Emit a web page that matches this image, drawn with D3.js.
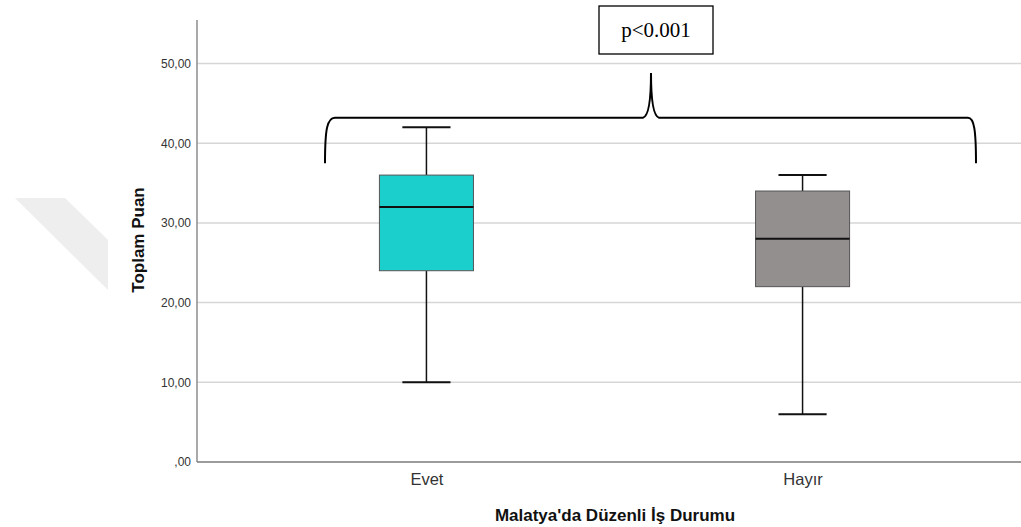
<!DOCTYPE html>
<html>
<head>
<meta charset="utf-8">
<script src="https://cdn.jsdelivr.net/npm/d3@7"></script>
<style>
  body { margin: 0; background: #fff; }
  svg { display: block; font-family: "Liberation Sans", Arial, sans-serif; }
</style>
</head>
<body>
<div id="chart"></div>
<script>
const categories = ["Evet", "Hayır"];
const minValues = [10, 6];
const q1Values = [24, 22];
const medianValues = [32, 28];
const q3Values = [36, 34];
const maxValues = [42, 36];
const yTickValues = [0, 10, 20, 30, 40, 50];
const boxColors = ["#1bcfcc", "#938f8e"];
const pLabel = "p<0.001";

const width = 1021,
  height = 527;
const plot = { left: 197, right: 1021, top: 20, bottom: 462 };

const svg = d3
  .select("#chart")
  .append("svg")
  .attr("width", width)
  .attr("height", height);

// faint watermark shape at left
svg
  .append("polygon")
  .attr("points", "15,198 65,198 108,240 108,290")
  .attr("fill", "#eeeeee");

const y = d3
  .scaleLinear()
  .domain([0, 50])
  .range([plot.bottom, 63.5]);

const x = d3
  .scalePoint()
  .domain(categories)
  .range([plot.left, 1032])
  .padding(0.61);

const step = x.step();
const boxWidth = step * 0.25,
  capWidth = step * 0.128;

// gridlines
svg
  .append("g")
  .selectAll("line")
  .data(yTickValues.filter((d) => d > 0))
  .join("line")
  .attr("x1", plot.left)
  .attr("x2", plot.right)
  .attr("y1", (d) => y(d))
  .attr("y2", (d) => y(d))
  .attr("stroke", "#d6d6d6")
  .attr("stroke-width", 1.5);

// y axis
const yAxis = svg
  .append("g")
  .attr("transform", "translate(" + plot.left + ",0)")
  .call(
    d3
      .axisLeft(y)
      .tickValues(yTickValues)
      .tickSize(0)
      .tickPadding(6)
      .tickFormat((d) => (d === 0 ? ",00" : d + ",00"))
  );
yAxis.select(".domain").remove();
yAxis
  .selectAll("text")
  .attr("font-size", 12)
  .attr("fill", "#333")
  .attr("font-family", "'Liberation Sans', Arial, sans-serif");
svg
  .append("line")
  .attr("x1", plot.left)
  .attr("x2", plot.left)
  .attr("y1", plot.top)
  .attr("y2", plot.bottom)
  .attr("stroke", "#8c8c8c")
  .attr("stroke-width", 1.5);

// x axis
const xAxis = svg
  .append("g")
  .attr("transform", "translate(0," + plot.bottom + ")")
  .call(d3.axisBottom(x).tickSize(0).tickPadding(11));
xAxis.select(".domain").remove();
xAxis
  .selectAll("text")
  .attr("font-size", 16.5)
  .attr("fill", "#333")
  .attr("font-family", "'Liberation Sans', Arial, sans-serif");
svg
  .append("line")
  .attr("x1", plot.left)
  .attr("x2", plot.right)
  .attr("y1", plot.bottom)
  .attr("y2", plot.bottom)
  .attr("stroke", "#7a7a7a")
  .attr("stroke-width", 1.5);

// boxes
const boxData = categories.map((c, i) => ({
  cat: c,
  min: minValues[i],
  q1: q1Values[i],
  median: medianValues[i],
  q3: q3Values[i],
  max: maxValues[i],
  color: boxColors[i],
}));

const boxes = svg
  .append("g")
  .selectAll("g")
  .data(boxData)
  .join("g")
  .attr("transform", (d) => "translate(" + x(d.cat) + ",0)");

boxes
  .append("line")
  .attr("x1", 0)
  .attr("x2", 0)
  .attr("y1", (d) => y(d.max))
  .attr("y2", (d) => y(d.q3))
  .attr("stroke", "#111")
  .attr("stroke-width", 1.5);
boxes
  .append("line")
  .attr("x1", 0)
  .attr("x2", 0)
  .attr("y1", (d) => y(d.q1))
  .attr("y2", (d) => y(d.min))
  .attr("stroke", "#111")
  .attr("stroke-width", 1.5);
boxes
  .selectAll(".cap")
  .data((d) => [d.max, d.min])
  .join("line")
  .attr("class", "cap")
  .attr("x1", -capWidth / 2)
  .attr("x2", capWidth / 2)
  .attr("y1", (v) => y(v))
  .attr("y2", (v) => y(v))
  .attr("stroke", "#111")
  .attr("stroke-width", 2);
boxes
  .append("rect")
  .attr("x", -boxWidth / 2)
  .attr("width", boxWidth)
  .attr("y", (d) => y(d.q3))
  .attr("height", (d) => y(d.q1) - y(d.q3))
  .attr("fill", (d) => d.color)
  .attr("stroke", "#555")
  .attr("stroke-width", 1);
boxes
  .append("line")
  .attr("x1", -boxWidth / 2)
  .attr("x2", boxWidth / 2)
  .attr("y1", (d) => y(d.median))
  .attr("y2", (d) => y(d.median))
  .attr("stroke", "#111")
  .attr("stroke-width", 2);

// brace annotation
const bl = 325,
  br = 976,
  peak = 651,
  by = y(43.2),
  bEnd = y(37.5),
  bTop = y(48.8);
const brace =
  "M" + bl + "," + bEnd +
  " C" + bl + "," + (by + 12) + " " + (bl + 2) + "," + by + " " + (bl + 10) + "," + by +
  " L" + (peak - 8) + "," + by +
  " Q" + peak + "," + (by - 2) + " " + peak + "," + bTop +
  " Q" + peak + "," + (by - 2) + " " + (peak + 8) + "," + by +
  " L" + (br - 8) + "," + by +
  " C" + (br - 2) + "," + by + " " + br + "," + (by + 12) + " " + br + "," + bEnd;
svg
  .append("path")
  .attr("d", brace)
  .attr("fill", "none")
  .attr("stroke", "#000")
  .attr("stroke-width", 2);

// p-value box
svg
  .append("rect")
  .attr("x", 599)
  .attr("y", 6)
  .attr("width", 114)
  .attr("height", 48)
  .attr("fill", "#fff")
  .attr("stroke", "#000")
  .attr("stroke-width", 1.3);
svg
  .append("text")
  .attr("x", 656)
  .attr("y", 37)
  .attr("text-anchor", "middle")
  .attr("font-family", "'Liberation Serif', 'Times New Roman', serif")
  .attr("font-size", 21)
  .attr("fill", "#000")
  .text(pLabel);

// axis titles
svg
  .append("text")
  .attr("transform", "translate(144,240) rotate(-90)")
  .attr("text-anchor", "middle")
  .attr("font-size", 17)
  .attr("font-weight", "bold")
  .attr("fill", "#111")
  .text("Toplam Puan");
svg
  .append("text")
  .attr("x", 615)
  .attr("y", 521)
  .attr("text-anchor", "middle")
  .attr("font-size", 17)
  .attr("font-weight", "bold")
  .attr("fill", "#111")
  .text("Malatya'da Düzenli İş Durumu");
</script>
</body>
</html>
